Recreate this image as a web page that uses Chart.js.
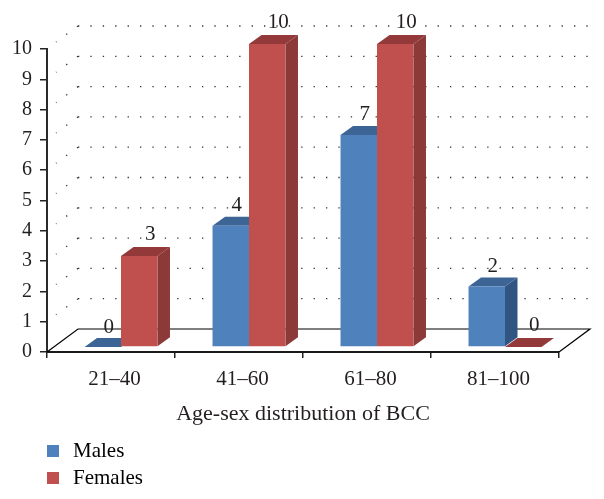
<!DOCTYPE html>
<html>
<head>
<meta charset="utf-8">
<style>html,body{margin:0;padding:0;background:#fff}canvas{display:block}</style>
<script src="https://cdn.jsdelivr.net/npm/chart.js@4"></script>
</head>
<body>
<canvas id="c" width="604" height="499"></canvas>
<script>
const categories = ["21–40", "41–60", "61–80", "81–100"];
const males = [0, 4, 7, 2];
const females = [3, 10, 10, 0];
const seriesNames = ["Males", "Females"];
const tickValues = [0, 1, 2, 3, 4, 5, 6, 7, 8, 9, 10];
const axisTitle = "Age-sex distribution of BCC";

const FONT = '"Liberation Serif", serif';
const INK = '#231f20';
const frontColors = ['#4f81bd', '#c0504d'];
const topColors = ['#3c6596', '#93393a'];
const sideColors = ['#315583', '#8c3a39'];
const barShift = {x: 10, y: -5};
const depth = {x: 12.5, y: 9};
const wall = {x: 31, y: -23};
const labelOffset = [{x: 6, y: -20}, {x: 11, y: -22}];

function poly(ctx, pts, fill) {
  ctx.beginPath();
  pts.forEach((p, i) => i ? ctx.lineTo(p[0], p[1]) : ctx.moveTo(p[0], p[1]));
  ctx.closePath();
  ctx.fillStyle = fill;
  ctx.fill();
}
function swatch(color) {
  const s = document.createElement('canvas');
  s.width = 12; s.height = 12;
  const g = s.getContext('2d');
  g.fillStyle = color;
  g.fillRect(0, 0, 12, 12);
  return s;
}

const scene = {
  id: 'scene',
  beforeLayout(chart) {
    const lg = chart.legend;
    if (lg && !lg._patched) {
      lg._patched = true;
      const fit = lg.fit;
      lg.fit = function () {
        const m = this.maxWidth;
        this.maxWidth = 120;
        fit.call(this);
        this.maxWidth = m;
        this.height = 72;
      };
    }
  },
  afterLayout(chart) {
    const lg = chart.legend;
    lg.left = 37.5;
    lg.right = 37.5 + 120;
    lg.top = 434.5;
    lg.bottom = 499;
  },
  beforeDatasetsDraw(chart) {
    const ctx = chart.ctx, y = chart.scales.y, a = chart.chartArea;
    ctx.save();
    // dotted back and side walls
    ctx.strokeStyle = '#333';
    ctx.lineWidth = 1.3;
    tickValues.forEach(v => {
      if (v === 0) return;
      const py = y.getPixelForValue(v);
      ctx.setLineDash([1.3, 11.1]);
      ctx.beginPath();
      ctx.moveTo(a.left + wall.x, py + wall.y);
      ctx.lineTo(a.right + wall.x, py + wall.y);
      ctx.stroke();
      ctx.beginPath();
      ctx.moveTo(a.left + wall.x, py + wall.y);
      ctx.lineTo(a.left + 9, py - 7);
      ctx.setLineDash([1.3, 12]);
      ctx.stroke();
    });
    ctx.setLineDash([]);
    // floor
    const base = y.getPixelForValue(0);
    ctx.strokeStyle = '#000';
    ctx.lineWidth = 1.2;
    ctx.beginPath();
    ctx.moveTo(a.left, base);
    ctx.lineTo(a.left + wall.x, base + wall.y);
    ctx.lineTo(a.right + wall.x, base + wall.y);
    ctx.lineTo(a.right, base);
    ctx.stroke();
    // bar side and top faces
    [0, 1].forEach(d => {
      chart.getDatasetMeta(d).data.forEach(el => {
        const x0 = el.x - el.width / 2 + barShift.x, x1 = el.x + el.width / 2 + barShift.x;
        const t = el.y + barShift.y, b = el.base + barShift.y;
        poly(ctx, [[x1, t], [x1 + depth.x, t - depth.y], [x1 + depth.x, b - depth.y], [x1, b]], sideColors[d]);
        poly(ctx, [[x0, t], [x1, t], [x1 + depth.x, t - depth.y], [x0 + depth.x, t - depth.y]], topColors[d]);
      });
    });
    ctx.restore();
  },
  beforeDatasetDraw(chart) {
    chart.ctx.save();
    chart.ctx.translate(barShift.x, barShift.y);
  },
  afterDatasetDraw(chart) {
    chart.ctx.restore();
  },
  afterDatasetsDraw(chart) {
    const ctx = chart.ctx;
    ctx.save();
    ctx.font = '21px ' + FONT;
    ctx.fillStyle = INK;
    ctx.textAlign = 'center';
    ctx.textBaseline = 'middle';
    [0, 1].forEach(d => {
      chart.getDatasetMeta(d).data.forEach((el, i) => {
        ctx.fillText(String(chart.data.datasets[d].data[i]),
          el.x + barShift.x + labelOffset[d].x, el.y + barShift.y + labelOffset[d].y);
      });
    });
    ctx.restore();
  }
};

new Chart(document.getElementById('c'), {
  type: 'bar',
  data: {
    labels: categories,
    datasets: [
      {label: seriesNames[0], data: males, backgroundColor: frontColors[0], clip: false},
      {label: seriesNames[1], data: females, backgroundColor: frontColors[1], clip: false}
    ]
  },
  options: {
    responsive: false,
    animation: false,
    devicePixelRatio: 1,
    layout: {padding: {left: 0, right: 45, top: 49, bottom: 0}},
    categoryPercentage: 0.57,
    barPercentage: 1,
    scales: {
      x: {
        afterFit(s) { s.height = 75; },
        grid: {drawOnChartArea: false, drawTicks: true, tickLength: 6, color: '#222', lineWidth: 1.5, offset: true},
        border: {color: '#1a1a1a', width: 2},
        ticks: {color: INK, font: {family: FONT, size: 21}, padding: 9, autoSkip: false, maxRotation: 0, labelOffset: 3.5},
        title: {display: true, text: axisTitle, color: INK, font: {family: FONT, size: 22}, padding: {top: 6, bottom: 0}}
      },
      y: {
        min: 0, max: 10,
        afterFit(s) { s.width = 47; },
        afterBuildTicks(s) { s.ticks = tickValues.map(v => ({value: v})); },
        grid: {drawOnChartArea: false, tickLength: 7, color: '#222', lineWidth: 1.5},
        border: {color: '#2a2a2a', width: 2},
        ticks: {color: INK, font: {family: FONT, size: 20}, padding: 8}
      }
    },
    plugins: {
      tooltip: {enabled: false},
      legend: {
        display: true,
        position: 'bottom',
        align: 'start',
        fullSize: false,
        labels: {
          color: INK,
          font: {family: FONT, size: 21},
          usePointStyle: true,
          pointStyleWidth: 19,
          boxHeight: 12,
          padding: 6,
          generateLabels: c => c.data.datasets.map((d, i) => ({
            text: d.label,
            fillStyle: d.backgroundColor,
            strokeStyle: d.backgroundColor,
            lineWidth: 0,
            pointStyle: swatch(d.backgroundColor),
            datasetIndex: i,
            hidden: false
          }))
        }
      }
    }
  },
  plugins: [scene]
});
</script>
</body>
</html>
